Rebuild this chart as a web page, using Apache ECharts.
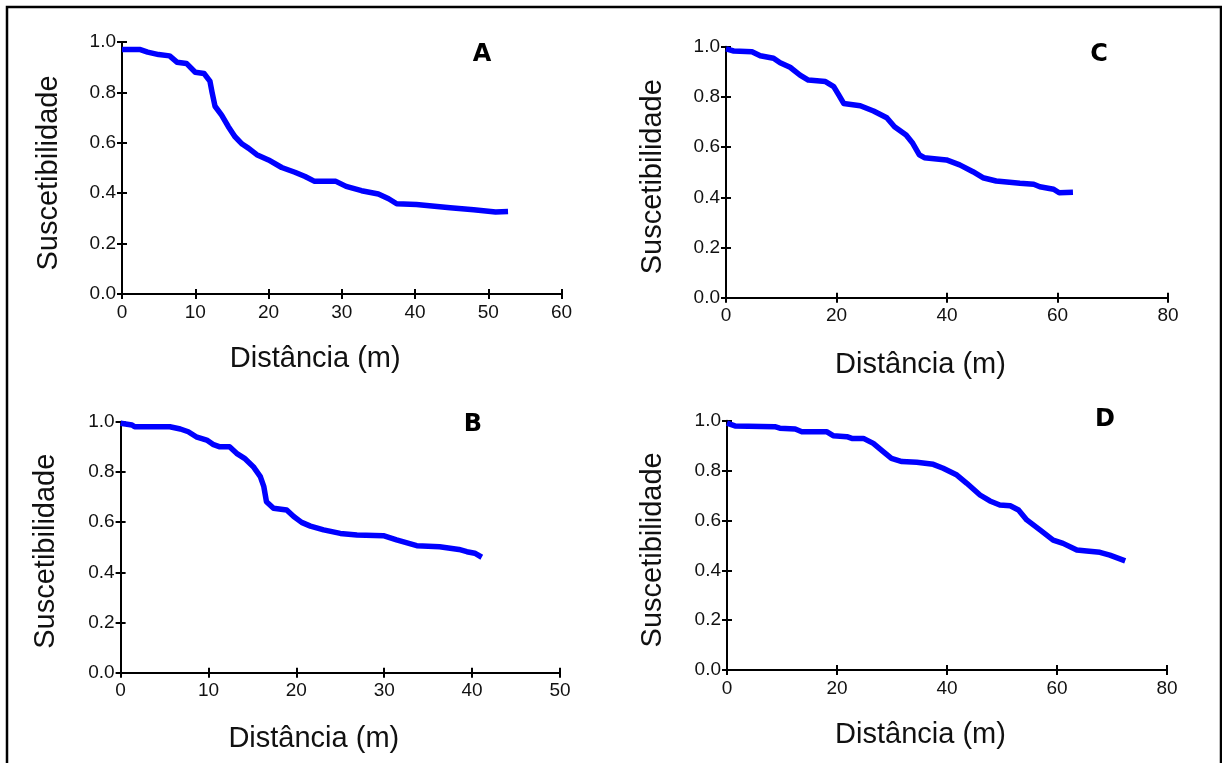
<!DOCTYPE html>
<html>
<head>
<meta charset="utf-8">
<script src="https://cdn.jsdelivr.net/npm/echarts@6/dist/echarts.min.js"></script>
<style>html,body{margin:0;padding:0;background:#fff;}#c{width:1222px;height:763px;}</style>
</head>
<body>
<div id="c"></div>
<script>
// ---- Data ----
const panelLabels = ['A', 'B', 'C', 'D'];
const yTitle = 'Suscetibilidade';
const xTitle = 'Distância (m)';

const xMaxA = 60, xStepA = 10;
const distA = [0, 2.5, 3.5, 5, 6.5, 7.5, 8.8, 10, 11.2, 12, 12.3, 12.7, 13.6, 14.5, 15.4, 16.4, 17.3, 18.4, 20, 21.8, 23.6, 25, 26.3, 29.2, 30.6, 32.7, 35, 36.4, 37.5, 40.2, 44.8, 48, 51, 52.7];
const suscA = [0.97, 0.97, 0.96, 0.95, 0.945, 0.92, 0.915, 0.88, 0.875, 0.845, 0.80, 0.745, 0.71, 0.665, 0.625, 0.595, 0.578, 0.553, 0.532, 0.502, 0.483, 0.466, 0.447, 0.447, 0.427, 0.41, 0.397, 0.378, 0.358, 0.355, 0.342, 0.334, 0.325, 0.327];

const xMaxB = 50, xStepB = 10;
const distB = [0, 1.3, 1.6, 5.6, 6.8, 7.7, 8.6, 9.8, 10.5, 11.3, 12.4, 13.2, 14.1, 15.1, 15.9, 16.3, 16.6, 17.4, 18.9, 19.7, 20.6, 21.6, 23.1, 25.0, 26.9, 29.9, 31.4, 33.7, 36.3, 38.5, 39.4, 40.3, 41.1];
const suscB = [0.994, 0.987, 0.98, 0.98, 0.971, 0.96, 0.94, 0.927, 0.91, 0.90, 0.90, 0.874, 0.854, 0.821, 0.781, 0.741, 0.681, 0.655, 0.648, 0.622, 0.599, 0.584, 0.569, 0.555, 0.549, 0.546, 0.529, 0.506, 0.502, 0.491, 0.482, 0.476, 0.46];

const xMaxC = 80, xStepC = 20;
const distC = [0, 1.4, 4.7, 6.2, 8.6, 9.8, 11.6, 13.4, 14.9, 18.0, 19.5, 20.4, 21.3, 24.3, 26.7, 29.1, 30.5, 32.6, 33.8, 35.0, 35.9, 39.9, 42.3, 44.7, 46.5, 48.9, 51.3, 53.2, 55.7, 56.8, 59.3, 60.3, 62.8];
const suscC = [0.991, 0.983, 0.98, 0.964, 0.954, 0.936, 0.918, 0.887, 0.867, 0.861, 0.841, 0.808, 0.774, 0.765, 0.744, 0.717, 0.681, 0.648, 0.615, 0.569, 0.558, 0.549, 0.529, 0.502, 0.478, 0.465, 0.46, 0.456, 0.452, 0.442, 0.432, 0.418, 0.42];

const xMaxD = 80, xStepD = 20;
const distD = [0, 1.45, 8.7, 9.6, 12.4, 13.6, 18.1, 19.3, 21.8, 22.7, 24.8, 26.6, 28.4, 29.9, 31.8, 34.5, 37.5, 39.3, 41.8, 43.6, 46.0, 47.8, 49.6, 51.5, 53.0, 54.5, 56.9, 59.3, 61.1, 63.6, 65.4, 67.8, 69.6, 72.4];
const suscD = [0.99, 0.979, 0.976, 0.97, 0.967, 0.956, 0.956, 0.94, 0.936, 0.929, 0.929, 0.909, 0.876, 0.849, 0.836, 0.833, 0.825, 0.809, 0.782, 0.749, 0.702, 0.678, 0.662, 0.659, 0.642, 0.602, 0.562, 0.521, 0.508, 0.481, 0.477, 0.472, 0.461, 0.438];

const yTicks = ['0.0', '0.2', '0.4', '0.6', '0.8', '1.0'];

// ---- Layout ----
const panels = [
  {label: 'A', x: distA, y: suscA, xMax: xMaxA, xStep: xStepA, grid: {left: 122, top: 42, width: 439.5, height: 252}, lab: [482, 55], yGap: 59, yShift: 10, xGap: 50},
  {label: 'B', x: distB, y: suscB, xMax: xMaxB, xStep: xStepB, grid: {left: 120.6, top: 421.7, width: 439.4, height: 251}, lab: [473, 425], yGap: 60, yShift: 8, xGap: 52},
  {label: 'C', x: distC, y: suscC, xMax: xMaxC, xStep: xStepC, grid: {left: 726, top: 46.7, width: 442, height: 251}, lab: [1099, 55], yGap: 59, yShift: 9, xGap: 53},
  {label: 'D', x: distD, y: suscD, xMax: xMaxD, xStep: xStepD, grid: {left: 727, top: 420.7, width: 440, height: 249.3}, lab: [1105, 420], yGap: 60, yShift: 9, xGap: 50}
];

const FONT = 'Liberation Sans, Arial, sans-serif';
const axisLineStyle = {color: '#000', width: 2};
const grids = [], xAxes = [], yAxes = [], series = [], graphics = [];

panels.forEach((p, i) => {
  grids.push(Object.assign({}, p.grid));
  xAxes.push({
    type: 'value', gridIndex: i, position: 'bottom', min: 0, max: p.xMax, interval: p.xStep,
    axisLine: {show: true, onZero: false, lineStyle: axisLineStyle},
    axisTick: {show: true, length: 5, inside: false, lineStyle: axisLineStyle},
    axisLabel: {show: true, margin: 9, color: '#111', fontFamily: FONT, fontSize: 19},
    splitLine: {show: false},
    name: xTitle, nameLocation: 'middle', nameGap: p.xGap,
    nameTextStyle: {fontFamily: FONT, fontSize: 29, color: '#111', padding: [0, 53, 0, 0]}
  });
  xAxes.push({
    type: 'value', gridIndex: i, position: 'bottom', offset: 0, min: 0, max: p.xMax, interval: p.xStep,
    axisLine: {show: false, onZero: false},
    axisTick: {show: true, length: 5, inside: true, lineStyle: axisLineStyle},
    axisLabel: {show: false}, splitLine: {show: false}
  });
  yAxes.push({
    type: 'value', gridIndex: i, position: 'left', min: 0, max: 1, interval: 0.2,
    axisLine: {show: true, onZero: false, lineStyle: axisLineStyle},
    axisTick: {show: true, length: 5, inside: false, lineStyle: axisLineStyle},
    axisLabel: {show: true, margin: 6, color: '#111', fontFamily: FONT, fontSize: 19,
      formatter: v => yTicks[Math.round(v / 0.2)]},
    splitLine: {show: false},
    name: yTitle, nameLocation: 'middle', nameGap: p.yGap, nameRotate: 90,
    nameTextStyle: {fontFamily: FONT, fontSize: 29, color: '#111', padding: [0, p.yShift, 0, 0]}
  });
  yAxes.push({
    type: 'value', gridIndex: i, position: 'left', offset: 0, min: 0, max: 1, interval: 0.2,
    axisLine: {show: false, onZero: false},
    axisTick: {show: true, length: 5, inside: true, lineStyle: axisLineStyle},
    axisLabel: {show: false}, splitLine: {show: false}
  });
  series.push({
    type: 'line', xAxisIndex: 2 * i, yAxisIndex: 2 * i,
    data: p.x.map((d, k) => [d, p.y[k]]),
    showSymbol: false, symbol: 'none', smooth: false,
    lineStyle: {color: '#0000ff', width: 5.5, join: 'round'},
    silent: true, animation: false
  });
  graphics.push({
    type: 'text', x: p.lab[0], y: p.lab[1],
    style: {text: p.label, fontFamily: 'DejaVu Sans, sans-serif', fontWeight: 'bold', fontSize: 24,
      fill: '#000', align: 'center', verticalAlign: 'middle'}
  });
});

graphics.push({
  type: 'rect', shape: {x: 7, y: 7, width: 1214, height: 900},
  style: {fill: 'none', stroke: '#000', lineWidth: 2.5}
});

const chart = echarts.init(document.getElementById('c'), null, {renderer: 'canvas'});
chart.setOption({
  backgroundColor: '#ffffff',
  animation: false,
  grid: grids,
  xAxis: xAxes,
  yAxis: yAxes,
  series: series,
  graphic: graphics
});
</script>
</body>
</html>
